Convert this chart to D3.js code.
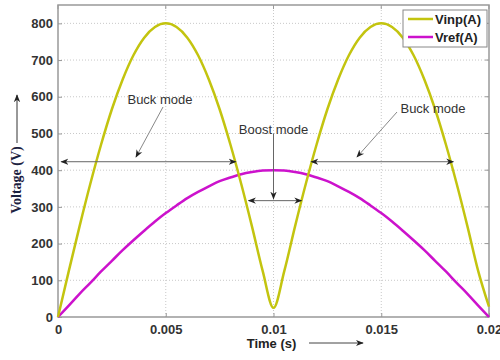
<!DOCTYPE html>
<html lang="en">
<head>
<meta charset="UTF-8">
<title>Vinp / Vref</title>
<script src="https://d3js.org/d3.v7.min.js"></script>
<style>
  body { margin: 0; background: #fff; }
  svg text { font-family: Arial, "Liberation Sans", sans-serif; }
  .tick text { font-weight: bold; font-size: 13px; fill: #333; }
  .note { font-size: 13px; fill: #333; }
</style>
</head>
<body>
<svg width="500" height="360"></svg>
<script>
// time samples (s), every 0.0005 s
var times = [0, 0.0005, 0.001, 0.0015, 0.002, 0.0025, 0.003, 0.0035, 0.004, 0.0045,
  0.005, 0.0055, 0.006, 0.0065, 0.007, 0.0075, 0.008, 0.0085, 0.009, 0.0095,
  0.01, 0.0105, 0.011, 0.0115, 0.012, 0.0125, 0.013, 0.0135, 0.014, 0.0145,
  0.015, 0.0155, 0.016, 0.0165, 0.017, 0.0175, 0.018, 0.0185, 0.019, 0.0195, 0.02];

// rectified input voltage
var vinp = [0, 125, 247, 363, 470, 566, 647, 713, 761, 790,
  800, 790, 761, 713, 647, 566, 470, 363, 247, 125,
  25, 125, 247, 363, 470, 566, 647, 713, 761, 790,
  800, 790, 761, 713, 647, 566, 470, 363, 247, 125, 28];

// reference voltage
var vref = [0, 31, 63, 93, 124, 153, 182, 209, 235, 260,
  283, 304, 324, 341, 356, 370, 380, 389, 395, 399,
  400, 399, 395, 389, 380, 370, 356, 341, 324, 304,
  283, 260, 235, 209, 182, 153, 124, 93, 63, 31, 0];

var xTicks = [0, 0.005, 0.01, 0.015, 0.02];
var xTickLabels = ["0", "0.005", "0.01", "0.015", "0.02"];
var yTicks = [0, 100, 200, 300, 400, 500, 600, 700, 800];

var seriesNames = ["Vinp(A)", "Vref(A)"];
var seriesColors = ["#c3c40f", "#cc12cc"];

var svg = d3.select("svg");
var margin = { left: 58, right: 11, top: 5, bottom: 43 };
var W = 500, H = 360;

var x = d3.scaleLinear().domain([0, 0.02]).range([margin.left, W - margin.right]);
var y = d3.scaleLinear().domain([0, 850]).range([H - margin.bottom, margin.top]);

// grid
var grid = svg.append("g");
grid.selectAll(".gx").data(xTicks.slice(1, -1)).enter().append("line")
  .attr("x1", d => x(d)).attr("x2", d => x(d))
  .attr("y1", y(0)).attr("y2", y(850))
  .attr("stroke", "#c8c8c8").attr("stroke-dasharray", "1,2");
grid.selectAll(".gy").data(yTicks.slice(1)).enter().append("line")
  .attr("x1", x(0)).attr("x2", x(0.02))
  .attr("y1", d => y(d)).attr("y2", d => y(d))
  .attr("stroke", "#c8c8c8").attr("stroke-dasharray", "1,2");

// box
svg.append("rect")
  .attr("x", x(0)).attr("y", y(850))
  .attr("width", x(0.02) - x(0)).attr("height", y(0) - y(850))
  .attr("fill", "none").attr("stroke", "#999").attr("stroke-width", 1.5);

// axes
svg.append("g").attr("transform", "translate(0," + y(0) + ")")
  .call(d3.axisBottom(x).tickValues(xTicks).tickSize(-4).tickPadding(8)
    .tickFormat((d, i) => xTickLabels[i]));
svg.append("g").attr("transform", "translate(" + x(0) + ",0)")
  .call(d3.axisLeft(y).tickValues(yTicks).tickSize(-4).tickPadding(5));
svg.selectAll(".domain").remove();
svg.selectAll(".tick line").attr("stroke", "#999");
// top/right ticks
svg.append("g").selectAll("line").data(yTicks).enter().append("line")
  .attr("x1", x(0.02)).attr("x2", x(0.02) - 4)
  .attr("y1", d => y(d)).attr("y2", d => y(d)).attr("stroke", "#999");
svg.append("g").selectAll("line").data(xTicks).enter().append("line")
  .attr("x1", d => x(d)).attr("x2", d => x(d))
  .attr("y1", y(850)).attr("y2", y(850) + 4).attr("stroke", "#999");

// curves
var line = d3.line().x((d, i) => x(times[i])).y(d => y(d)).curve(d3.curveMonotoneX);
[vref, vinp].forEach(function(s, k) {
  svg.append("path").datum(s)
    .attr("d", line)
    .attr("fill", "none")
    .attr("stroke", seriesColors[1 - k])
    .attr("stroke-width", 2.5);
});

// arrow marker
var defs = svg.append("defs");
defs.append("marker").attr("id", "ah")
  .attr("viewBox", "0 0 10 10").attr("refX", 9).attr("refY", 5)
  .attr("markerWidth", 8).attr("markerHeight", 8)
  .attr("markerUnits", "userSpaceOnUse")
  .attr("orient", "auto-start-reverse")
  .append("path").attr("d", "M0,1 L10,5 L0,9 L3,5 Z").attr("fill", "#222");

function arrow(x1, y1, x2, y2, both, color) {
  var l = svg.append("line")
    .attr("x1", x1).attr("y1", y1).attr("x2", x2).attr("y2", y2)
    .attr("stroke", color || "#666").attr("stroke-width", 1)
    .attr("marker-end", "url(#ah)");
  if (both) l.attr("marker-start", "url(#ah)");
}

// mode annotations
arrow(x(0.00015), y(423), x(0.00825), y(423), true);
arrow(x(0.01175), y(423), x(0.01835), y(423), true);
arrow(x(0.00885), y(317), x(0.0113), y(317), true);
arrow(x(0.01), y(500), x(0.01), y(322), false);
arrow(163, 107, 136, 157, false, "#888");
arrow(397, 112, 357, 157, false, "#888");

svg.append("text").attr("class", "note").attr("x", 160).attr("y", 104)
  .attr("text-anchor", "middle").text("Buck mode");
svg.append("text").attr("class", "note").attr("x", 433).attr("y", 113)
  .attr("text-anchor", "middle").text("Buck mode");
svg.append("text").attr("class", "note").attr("x", x(0.01)).attr("y", 134)
  .attr("text-anchor", "middle").text("Boost mode");

// axis titles
svg.append("text").attr("x", x(0.01) - 2).attr("y", 348)
  .attr("text-anchor", "middle").attr("font-weight", "bold")
  .attr("font-size", 13).attr("fill", "#222").text("Time (s)");
arrow(309, 343, 363, 343, false, "#444");

svg.append("text")
  .attr("transform", "translate(21,180) rotate(-90)")
  .attr("text-anchor", "middle")
  .style("font-family", "'Liberation Serif', 'DejaVu Serif', serif")
  .attr("font-weight", "bold").attr("font-size", 14).attr("fill", "#1c2140")
  .text("Voltage (V)");
arrow(17, 143, 17, 95, false, "#333");

// legend
var lg = svg.append("g");
lg.append("rect").attr("x", 403).attr("y", 10).attr("width", 84).attr("height", 37)
  .attr("fill", "#fff").attr("stroke", "#888");
seriesNames.forEach(function(n, i) {
  var yy = 19 + i * 18;
  lg.append("line").attr("x1", 408).attr("x2", 433).attr("y1", yy).attr("y2", yy)
    .attr("stroke", seriesColors[i]).attr("stroke-width", 2.5);
  lg.append("text").attr("x", 435).attr("y", yy + 5)
    .attr("font-weight", "bold").attr("font-size", 13).attr("fill", "#222").text(n);
});
</script>
</body>
</html>
